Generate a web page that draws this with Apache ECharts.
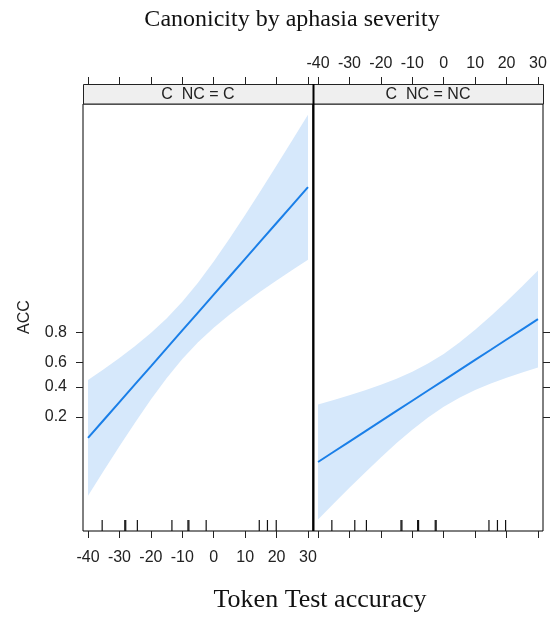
<!DOCTYPE html>
<html>
<head>
<meta charset="utf-8">
<script src="https://cdn.jsdelivr.net/npm/echarts@6/dist/echarts.min.js"></script>
<style>html,body{margin:0;padding:0;background:#fff;}#c{width:555px;height:619px;}</style>
</head>
<body>
<div id="c"></div>
<script>
// ---- data (linear predictor / logit scale of ACC) ----
var xVals = [-40, -35, -30, -25, -20, -15, -10, -5, 0, 5, 10, 15, 20, 25, 30];
var fitC   = [-2.076, -1.488, -0.901, -0.313, 0.274, 0.862, 1.450, 2.037, 2.625, 3.213, 3.800, 4.388, 4.975, 5.563, 6.150];
var lowerC = [-3.975, -3.155, -2.350, -1.566, -0.818, -0.119, 0.510, 1.060, 1.540, 1.969, 2.362, 2.733, 3.088, 3.434, 3.772];
var upperC = [-0.177, 0.179, 0.548, 0.940, 1.366, 1.843, 2.390, 3.014, 3.710, 4.457, 5.238, 6.043, 6.862, 7.692, 8.528];
var fitNC   = [-2.865, -2.530, -2.195, -1.861, -1.526, -1.191, -0.856, -0.521, -0.186, 0.149, 0.484, 0.818, 1.153, 1.488, 1.823];
var lowerNC = [-4.753, -4.230, -3.714, -3.208, -2.717, -2.246, -1.805, -1.404, -1.053, -0.755, -0.503, -0.288, -0.098, 0.073, 0.233];
var upperNC = [-0.977, -0.830, -0.676, -0.514, -0.335, -0.136, 0.093, 0.362, 0.681, 1.053, 1.471, 1.924, 2.404, 2.903, 3.413];
var rugC  = [-35.5, -28.3, -28.0, -24.3, -13.3, -8.2, -7.9, -2.4, 14.5, 17.1, 19.9];
var rugNC = [-35.6, -28.3, -24.6, -13.6, -13.3, -8.3, -8.0, -2.7, -2.4, 14.4, 17.1, 19.7];
var xTicks = [-40, -30, -20, -10, 0, 10, 20, 30];
var yTickProbs = [0.2, 0.4, 0.6, 0.8];
var panelNames = ['C  NC = C', 'C  NC = NC'];
var titleText = 'Canonicity by aphasia severity';
var xTitle = 'Token Test accuracy';
var yTitle = 'ACC';

// ---- helpers ----
function logit(p){ return Math.log(p/(1-p)); }
function invLogit(v){ return 1/(1+Math.exp(-v)); }
var yTickVals = yTickProbs.map(logit);
var X_MIN = -41.6, X_MAX = 31.6, Y_MIN = -5.13, Y_MAX = 8.88;
var FONT = '"Liberation Sans", Arial, sans-serif';
var SERIF = '"Liberation Serif", "Times New Roman", serif';

var chart = echarts.init(document.getElementById('c'), null, {renderer: 'canvas'});

var grids = [
  {left: 83, top: 104, width: 230, height: 427, show: true, borderColor: '#000', borderWidth: 1, backgroundColor: 'transparent'},
  {left: 313, top: 104, width: 230, height: 427, show: true, borderColor: '#000', borderWidth: 1, backgroundColor: 'transparent'}
];

function xAxisDef(gi, pos, showLabel){
  return {
    type: 'value', gridIndex: gi, position: pos, min: X_MIN, max: X_MAX,
    offset: pos === 'top' ? 20 : 0,
    axisLine: {show: false, onZero: false},
    splitLine: {show: false},
    axisTick: {show: true, customValues: xTicks, length: 7, lineStyle: {color: '#222', width: 1}},
    axisLabel: {show: showLabel, customValues: xTicks, fontFamily: FONT, fontSize: 16, color: '#222',
                margin: pos === 'top' ? 12 : 19},
  };
}
function yAxisDef(gi, pos, showLabel){
  return {
    type: 'value', gridIndex: gi, position: pos, min: Y_MIN, max: Y_MAX,
    axisLine: {show: false, onZero: false},
    splitLine: {show: false},
    axisTick: {show: true, customValues: yTickVals, length: 7, lineStyle: {color: '#222', width: 1}},
    axisLabel: {show: showLabel, customValues: yTickVals, fontFamily: FONT, fontSize: 16, color: '#222', margin: 16,
                formatter: function(v){ return invLogit(v).toFixed(1); }}
  };
}

function bandSeries(xi, yi, lower, upper){
  return {
    type: 'custom', xAxisIndex: xi, yAxisIndex: yi, z: 1, clip: true, silent: true,
    data: [[0]],
    renderItem: function(params, api){
      var pts = [];
      for (var i = 0; i < xVals.length; i++) pts.push(api.coord([xVals[i], upper[i]]));
      for (var j = xVals.length - 1; j >= 0; j--) pts.push(api.coord([xVals[j], lower[j]]));
      return {type: 'polygon', shape: {points: pts, smooth: 0}, style: {fill: '#d6e8fb', stroke: null}};
    }
  };
}
function lineSeries(xi, yi, fit){
  return {
    type: 'line', xAxisIndex: xi, yAxisIndex: yi, z: 3, symbol: 'none', silent: true,
    data: xVals.map(function(x, i){ return [x, fit[i]]; }),
    lineStyle: {color: '#1a7fe8', width: 2}
  };
}
function rugSeries(xi, yi, rug){
  return {
    type: 'custom', xAxisIndex: xi, yAxisIndex: yi, z: 4, silent: true,
    data: rug.map(function(v){ return [v]; }),
    renderItem: function(params, api){
      var p = api.coord([api.value(0), Y_MIN]);
      return {type: 'line', shape: {x1: p[0], y1: p[1], x2: p[0], y2: p[1] - 11},
              style: {stroke: '#111', lineWidth: 1.2}};
    }
  };
}

var option = {
  backgroundColor: '#fff',
  animation: false,
  grid: grids,
  xAxis: [
    xAxisDef(0, 'bottom', true),
    xAxisDef(0, 'top', false),
    xAxisDef(1, 'bottom', false),
    xAxisDef(1, 'top', true)
  ],
  yAxis: [
    yAxisDef(0, 'left', true),
    yAxisDef(1, 'right', false)
  ],
  series: [
    bandSeries(0, 0, lowerC, upperC),
    lineSeries(0, 0, fitC),
    rugSeries(0, 0, rugC),
    bandSeries(2, 1, lowerNC, upperNC),
    lineSeries(2, 1, fitNC),
    rugSeries(2, 1, rugNC)
  ],
  graphic: [
    {type: 'text', x: 292, y: 20, style: {text: titleText, font: '24px ' + SERIF, fill: '#111', textAlign: 'center', textVerticalAlign: 'middle'}},
    {type: 'rect', shape: {x: 83.5, y: 84.5, width: 230, height: 19.5}, style: {fill: '#efefef', stroke: '#222', lineWidth: 1}},
    {type: 'rect', shape: {x: 313.5, y: 84.5, width: 230, height: 19.5}, style: {fill: '#efefef', stroke: '#222', lineWidth: 1}},
    {type: 'text', x: 198, y: 94.5, style: {text: panelNames[0], font: '16px ' + FONT, fill: '#222', textAlign: 'center', textVerticalAlign: 'middle'}},
    {type: 'text', x: 428, y: 94.5, style: {text: panelNames[1], font: '16px ' + FONT, fill: '#222', textAlign: 'center', textVerticalAlign: 'middle'}},
    {type: 'line', shape: {x1: 313.5, y1: 84, x2: 313.5, y2: 531}, style: {stroke: '#000', lineWidth: 2}, z: 10},
    {type: 'text', x: 25, y: 317, rotation: Math.PI/2, style: {text: yTitle, font: '16px ' + FONT, fill: '#222', textAlign: 'center', textVerticalAlign: 'middle'}},
    {type: 'text', x: 320, y: 600, style: {text: xTitle, font: '26px ' + SERIF, fill: '#111', textAlign: 'center', textVerticalAlign: 'middle'}}
  ]
};
chart.setOption(option);
</script>
</body>
</html>
